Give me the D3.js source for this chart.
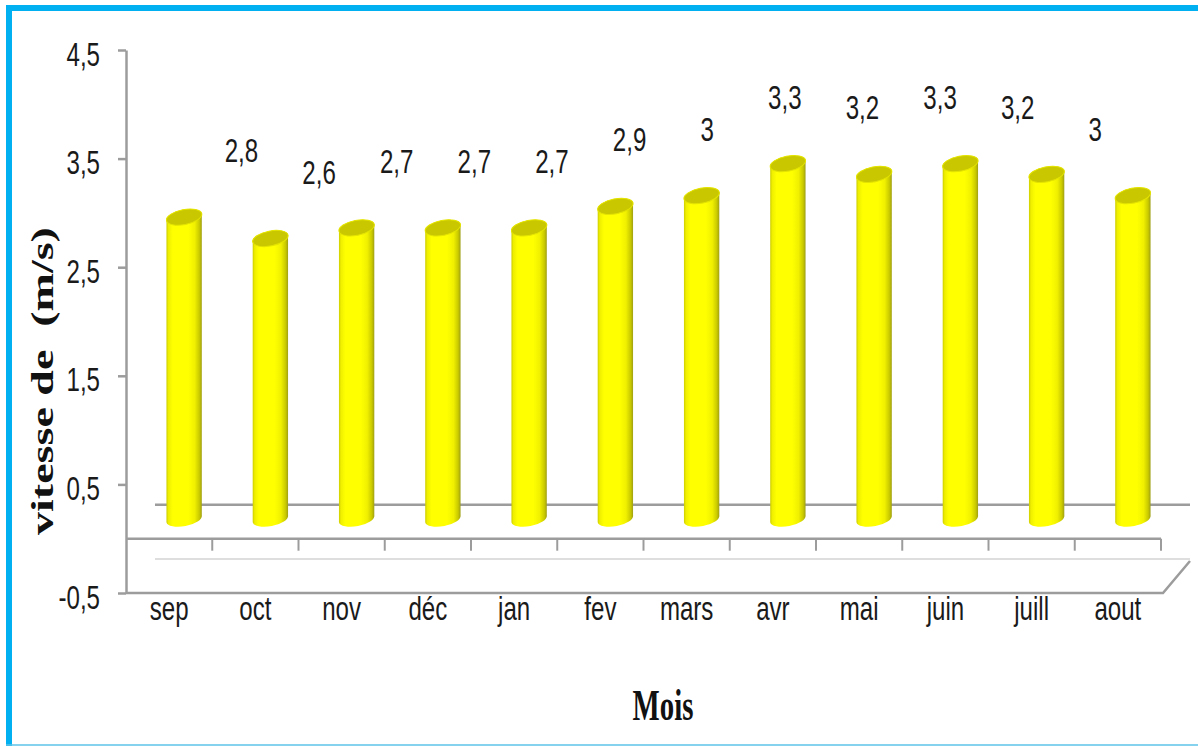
<!DOCTYPE html>
<html>
<head>
<meta charset="utf-8">
<script src="https://cdn.jsdelivr.net/npm/d3@7"></script>
<style>
  body { margin: 0; background: #fff; }
  svg { display: block; }
  .lbl { font-family: "Liberation Sans", Arial, sans-serif; fill: #1a1a1a; }
  .ttl { font-family: "Liberation Serif", "Times New Roman", serif; font-weight: bold; fill: #111; }
</style>
</head>
<body>
<div id="chart"></div>
<script>
// monthly mean wind speed (m/s)
const months = ["sep", "oct", "nov", "déc", "jan", "fev", "mars", "avr", "mai", "juin", "juill", "aout"];
const speeds = [2.8, 2.6, 2.7, 2.7, 2.7, 2.9, 3, 3.3, 3.2, 3.3, 3.2, 3];
const yTicks = [-0.5, 0.5, 1.5, 2.5, 3.5, 4.5];
const yTitle = "vitesse de  (m/s)";
const xTitle = "Mois";

const frenchNum = v => String(v).replace(".", ",");
const SQ = 0.73; // the original text is squeezed horizontally
const FS = 33;

class CylinderChart {
    constructor(_config) {
        this.config = {
            parentElement: _config.parentElement,
            width: _config.width || 1198,
            height: _config.height || 746
        };
        this.initVis();
    }

    initVis() {
        let vis = this;
        vis.svg = d3.select(vis.config.parentElement).append("svg")
            .attr("width", vis.config.width)
            .attr("height", vis.config.height);

        // frame
        vis.svg.append("rect").attr("x", 6).attr("y", 5).attr("width", 1192).attr("height", 6).attr("fill", "#00b0f0");
        vis.svg.append("rect").attr("x", 6).attr("y", 5).attr("width", 6).attr("height", 741).attr("fill", "#00b0f0");
        vis.svg.append("line").attr("x1", 6).attr("x2", 1198).attr("y1", 745).attr("y2", 745)
            .attr("stroke", "#5cc3ea").attr("stroke-width", 1.5);

        // scales for the front plane
        vis.x = d3.scaleBand().domain(months).range([126, 1161]).padding(0);
        vis.y = d3.scaleLinear().domain([-0.5, 4.5]).range([593, 50]);

        // fake 3d: back of floor and the plane the cylinders stand on
        vis.back = {dx: 29, dy: -34};
        vis.mid = {dx: 15, dy: -22};
        const zero = vis.y(0) + vis.mid.dy;
        vis.yBar = d3.scaleLinear().domain([0, 4.5]).range([zero, zero - 4.5 * 107]);

        const grey = "#9c9c9c";
        const x0 = vis.x.range()[0], x1 = vis.x.range()[1];
        const yFloor = vis.y(0), yBase = vis.y(-0.5);

        // back edge of floor (behind bars)
        vis.svg.append("line")
            .attr("x1", x0 + vis.back.dx).attr("x2", x1 + vis.back.dx)
            .attr("y1", yFloor + vis.back.dy).attr("y2", yFloor + vis.back.dy)
            .attr("stroke", grey).attr("stroke-width", 2.5);

        // floor front edge with category separators
        vis.svg.append("line")
            .attr("x1", x0).attr("x2", x1).attr("y1", yFloor).attr("y2", yFloor)
            .attr("stroke", grey).attr("stroke-width", 2.5);
        vis.svg.append("g").selectAll("line")
            .data(months)
            .join("line")
            .attr("x1", d => vis.x(d) + vis.x.bandwidth()).attr("x2", d => vis.x(d) + vis.x.bandwidth())
            .attr("y1", yFloor).attr("y2", yFloor + 12)
            .attr("stroke", grey).attr("stroke-width", 2);

        vis.svg.append("line")
            .attr("x1", x0 + vis.back.dx).attr("x2", x1 + vis.back.dx)
            .attr("y1", yBase + vis.back.dy).attr("y2", yBase + vis.back.dy)
            .attr("stroke", "#dedede").attr("stroke-width", 2);

        vis.svg.append("path")
            .attr("d", `M${x0},${yBase}H${x1 + 2}L${x1 + vis.back.dx},${yBase + vis.back.dy + 2}`)
            .attr("fill", "none").attr("stroke", grey).attr("stroke-width", 2.5);

        // y axis
        const yAxis = vis.svg.append("g")
            .attr("transform", `translate(${x0},0)`)
            .call(d3.axisLeft(vis.y).tickValues(yTicks).tickFormat(frenchNum).tickSize(8).tickSizeOuter(0).tickPadding(18));
        yAxis.select(".domain").attr("stroke", grey).attr("stroke-width", 2.5);
        yAxis.selectAll(".tick line").attr("stroke", grey).attr("stroke-width", 2.5);
        yAxis.selectAll("text")
            .attr("class", "lbl").attr("font-size", FS).attr("dy", "0.46em")
            .attr("x", -26 / SQ)
            .attr("transform", `scale(${SQ},1)`);

        // x axis labels
        const xAxis = vis.svg.append("g")
            .attr("transform", `translate(0,${yBase})`)
            .call(d3.axisBottom(vis.x).tickSize(0).tickPadding(4));
        xAxis.select(".domain").remove();
        xAxis.selectAll("text").attr("class", "lbl").attr("font-size", FS)
            .attr("transform", `scale(${SQ},1)`);

        // gradient for cylinders
        const defs = vis.svg.append("defs");
        const grad = defs.append("linearGradient").attr("id", "cyl")
            .attr("x1", 0).attr("x2", 1).attr("y1", 0).attr("y2", 0);
        [[0, "#cccc00"], [0.06, "#efef00"], [0.18, "#ffff00"], [0.62, "#ffff00"], [0.8, "#f0f000"], [0.93, "#c9c900"], [1, "#9e9e14"]]
            .forEach(s => grad.append("stop").attr("offset", s[0]).attr("stop-color", s[1]));

        const r = 18, ry = 7.5, tilt = -11;
        const a = r * Math.cos(tilt * Math.PI / 180), b = -r * Math.sin(tilt * Math.PI / 180);
        const cx = d => vis.x(d.m) + vis.x.bandwidth() / 2 + vis.mid.dx;
        const data = months.map((m, i) => ({m: m, v: speeds[i]}));

        const bars = vis.svg.append("g").selectAll("g")
            .data(data)
            .join("g");

        bars.append("path")
            .attr("fill", "url(#cyl)")
            .attr("d", d => {
                const c = cx(d), yt = vis.yBar(d.v), yb = vis.yBar(0) + 2;
                return `M${c - a},${yt + b}L${c - a},${yb + b}` +
                    `A${r},${ry} ${tilt} 0 0 ${c + a},${yb - b}` +
                    `L${c + a},${yt - b}` +
                    `A${r},${ry} ${tilt} 0 0 ${c - a},${yt + b}Z`;
            });

        bars.append("ellipse")
            .attr("cx", d => cx(d)).attr("cy", d => vis.yBar(d.v))
            .attr("rx", r).attr("ry", ry)
            .attr("transform", d => `rotate(${tilt} ${cx(d)} ${vis.yBar(d.v)})`)
            .attr("fill", "#c9c700").attr("stroke", "#e4e400").attr("stroke-width", 1);

        // data labels, pulled towards the vanishing point like Excel does
        const vp = 757;
        vis.svg.append("g").selectAll("text")
            .data(data)
            .join("text")
            .attr("class", "lbl")
            .attr("font-size", FS)
            .attr("text-anchor", "middle")
            .attr("transform", d => `translate(${vp + (cx(d) - vp) * 0.9},${vis.yBar(d.v) - 55}) scale(${SQ},1)`)
            .text(d => frenchNum(d.v));

        // titles
        vis.svg.append("text")
            .attr("class", "ttl")
            .attr("font-size", 46)
            .attr("text-anchor", "middle")
            .style("white-space", "pre")
            .attr("transform", "translate(53,381) rotate(-90) scale(1,0.68)")
            .text(yTitle);

        vis.svg.append("text")
            .attr("class", "ttl")
            .attr("font-size", 45)
            .attr("text-anchor", "middle")
            .attr("transform", "translate(663,720) scale(0.64,1)")
            .text(xTitle);
    }
}

new CylinderChart({parentElement: "#chart"});
</script>
</body>
</html>
